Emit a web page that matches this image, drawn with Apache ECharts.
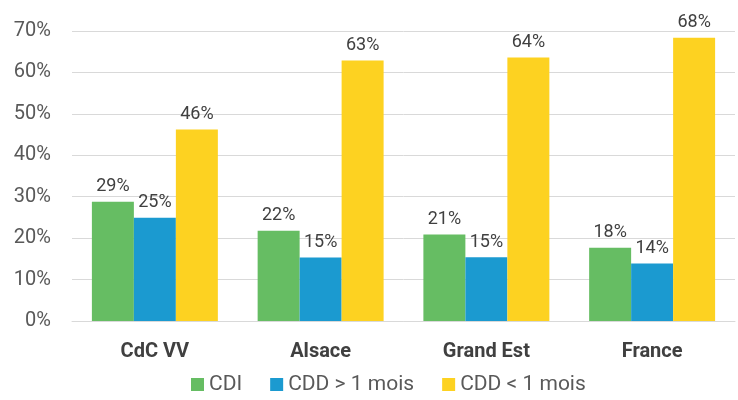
<!DOCTYPE html>
<html><head><meta charset="utf-8">
<script src="https://cdn.jsdelivr.net/npm/echarts@6/dist/echarts.min.js"></script>
<style>html,body{margin:0;padding:0;background:#fff}#c{width:738px;height:400px}</style>
</head><body><div id="c"></div>
<script>
const categories = ['CdC VV', 'Alsace', 'Grand Est', 'France'];
const cdi = [28.8, 21.8, 20.9, 17.7];
const cddPlus = [24.9, 15.3, 15.4, 13.9];
const cddMoins = [46.2, 62.9, 63.6, 68.4];
const seriesNames = ['CDI', 'CDD > 1 mois', 'CDD < 1 mois'];
const colors = ['#66BD63', '#1B9AD0', '#FDD221'];

const chart = echarts.init(document.getElementById('c'));
const font = 'Roboto, "Liberation Sans", sans-serif';
function mk(name, data, color) {
  return {
    name, type: 'bar', data, barGap: '0%', barCategoryGap: '24%',
    itemStyle: { color },
    label: { show: true, position: 'top', distance: 6, color: '#404040', fontSize: 18, fontFamily: font,
      formatter: p => Math.round(p.value) + '%' }
  };
}
chart.setOption({
  animation: false,
  grid: { left: 72, right: 3, top: 31, bottom: 79 },
  legend: {
    bottom: 0, left: 186, itemWidth: 13, itemHeight: 13, itemGap: 28, icon: 'rect',
    textStyle: { color: '#595959', fontSize: 21, fontFamily: font },
    data: seriesNames
  },
  xAxis: {
    type: 'category', data: categories,
    axisLine: { lineStyle: { color: '#D9D9D9', width: 1 } },
    axisTick: { show: false },
    axisLabel: { color: '#404040', fontSize: 20, fontWeight: 'bold', fontFamily: font, margin: 21 }
  },
  yAxis: {
    type: 'value', min: 0, max: 70, interval: 10,
    axisLabel: { formatter: '{value}%', color: '#595959', fontSize: 20, fontFamily: font, margin: 21 },
    splitLine: { lineStyle: { color: '#D9D9D9', width: 1 } },
    axisLine: { show: false }, axisTick: { show: false }
  },
  series: [mk(seriesNames[0], cdi, colors[0]), mk(seriesNames[1], cddPlus, colors[1]), mk(seriesNames[2], cddMoins, colors[2])]
});
</script></body></html>
